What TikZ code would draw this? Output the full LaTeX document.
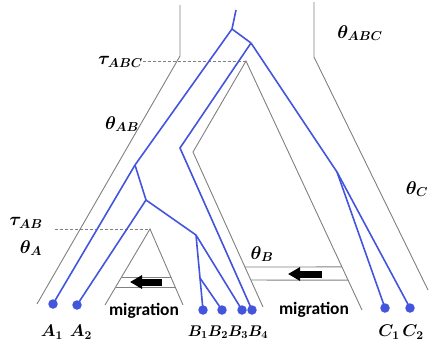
\RequirePackage{fix-cm}
\documentclass[tikz,border=0pt]{standalone}
\usepackage{fontspec}
\usepackage{bm}
\newfontfamily\migfont{Carlito}
\usetikzlibrary{calc,arrows.meta}
\definecolor{geneBlue}{HTML}{4455DD}
\definecolor{speciesGray}{HTML}{808080}

\begin{document}
\begin{tikzpicture}[
    x=1bp, y=-1bp,
    species/.style={draw=speciesGray, line width=0.9bp},
    timeline/.style={draw=speciesGray, line width=0.9bp, dash pattern=on 3bp off 2bp},
    gene/.style={draw=geneBlue, line width=1.6bp},
    tip/.style={circle, fill=geneBlue, inner sep=0pt, minimum size=9.5bp},
    param/.style={inner sep=0pt, font=\fontsize{18.5}{22}\selectfont},
    tiplabel/.style={inner sep=0pt, font=\fontsize{17}{20}\selectfont},
    miglabel/.style={inner sep=0pt, font=\migfont\bfseries\fontsize{17.5}{20}\selectfont},
    migarrow/.style={-{Triangle[length=12bp,width=13bp]}, line width=7bp, draw=black}
]
  \useasboundingbox (0,0) rectangle (429,347);

  % Species tree outline
  \coordinate (sRootL) at (180,5);
  \coordinate (sTauL) at (180,56);
  \coordinate (sAfoot) at (37,304);
  \coordinate (sRootR) at (314,2);
  \coordinate (sTauR) at (314,57);
  \coordinate (sCfoot) at (428,290);
  \coordinate (sApexABC) at (246,61);
  \coordinate (sNotch) at (193,152);
  \coordinate (sBfoot) at (263,307);
  \coordinate (sCinner) at (362,310);
  \coordinate (sApexAB) at (150,229);
  \coordinate (sAinner) at (105,305);
  \coordinate (sBinner) at (183,305);

  \draw[species] (sRootL) -- (sTauL) -- (sAfoot);
  \draw[species] (sRootR) -- (sTauR) -- (sCfoot);
  \draw[species] (sBfoot) -- (sNotch) -- (sApexABC) -- (sCinner);
  \draw[species] (sAinner) -- (sApexAB) -- (sBinner);

  % Migration bands
  \draw[species] ($(sApexAB)!0.632!(sAinner)$) -- ($(sApexAB)!0.632!(sBinner)$);
  \draw[species] ($(sApexAB)!0.763!(sAinner)$) -- ($(sApexAB)!0.763!(sBinner)$);
  \draw[species] ($(sNotch)!0.742!(sBfoot)$) -- ($(sApexABC)!0.827!(sCinner)$);
  \draw[species] ($(sNotch)!0.826!(sBfoot)$) -- ($(sApexABC)!0.880!(sCinner)$);

  \coordinate (migAstart) at (162,282);
  \coordinate (migAend) at (130,282);
  \coordinate (migBstart) at (322,274);
  \coordinate (migBend) at (288,274);
  \draw[migarrow] (migAstart) -- (migAend);
  \draw[migarrow] (migBstart) -- (migBend);

  \node[miglabel] (migA) at (144,311) {migration};
  \node[miglabel] (migB) at (314,310) {migration};

  % Parameter labels
  \node[param, anchor=east] (tauABC) at (143,62) {$\bm{\tau}_{\bm{ABC}}$};
  \node[param] (thetaAB) at (122,124) {$\bm{\theta}_{\bm{AB}}$};
  \node[param] (thetaABC) at (360,33) {$\bm{\theta}_{\bm{ABC}}$};
  \node[param] (thetaC) at (417,189) {$\bm{\theta}_{\bm{C}}$};
  \node[param] (tauAB) at (26,223) {$\bm{\tau}_{\bm{AB}}$};
  \node[param] (thetaA) at (31,248) {$\bm{\theta}_{\bm{A}}$};
  \node[param] (thetaB) at (262,254) {$\bm{\theta}_{\bm{B}}$};

  \draw[timeline] (tauABC.east |- sApexABC) -- (sApexABC);
  \draw[timeline] ([xshift=12bp]tauAB.east |- sApexAB) -- (sApexAB);

  % Gene tree
  \coordinate (gTop) at (236,10);
  \coordinate (gRoot) at (232,29);
  \coordinate (gBC) at (251,43);
  \coordinate (gBend) at (180,148);
  \coordinate (gC) at (337,172);
  \coordinate (gAAB) at (135,165);
  \coordinate (gAB) at (146,200);
  \coordinate (gB) at (196,235);
  \coordinate (gB12) at (200,278);

  \node[tip] (A1) at (53,304) {};
  \node[tip] (A2) at (77,305) {};
  \node[tip] (B1) at (203,310) {};
  \node[tip] (B2) at (222,310) {};
  \node[tip] (B3) at (242,310) {};
  \node[tip] (B4) at (252,310) {};
  \node[tip] (C1) at (385,308) {};
  \node[tip] (C2) at (410,308) {};

  \draw[gene] (gTop) -- (gRoot);
  \draw[gene] (gRoot) -- (gAAB);
  \draw[gene] (gRoot) -- (gBC);
  \draw[gene] (gBC) -- (gBend) -- (B4.center);
  \draw[gene] (gBC) -- (gC);
  \draw[gene] (gC) -- (C1.center);
  \draw[gene] (gC) -- (C2.center);
  \draw[gene] (gAAB) -- (A1.center);
  \draw[gene] (gAAB) -- (gAB);
  \draw[gene] (gAB) -- (A2.center);
  \draw[gene] (gAB) -- (gB);
  \draw[gene] (gB) -- (gB12);
  \draw[gene] (gB12) -- (B1.center);
  \draw[gene] (gB12) -- (B2.center);
  \draw[gene] (gB) -- (B3.center);

  % Tip labels
  \node[tiplabel] (labA1) at (52,332) {$\bm{A}_{\bm{1}}$};
  \node[tiplabel] (labA2) at (81,332) {$\bm{A}_{\bm{2}}$};
  \node[tiplabel, font=\fontsize{15.5}{20}\selectfont] (labB) at (228,332)
      {$\bm{B}_{\bm{1}}\bm{B}_{\bm{2}}\bm{B}_{\bm{3}}\bm{B}_{\bm{4}}$};
  \node[tiplabel] (labC1) at (389,332) {$\bm{C}_{\bm{1}}$};
  \node[tiplabel] (labC2) at (413,332) {$\bm{C}_{\bm{2}}$};

\end{tikzpicture}
\end{document}
